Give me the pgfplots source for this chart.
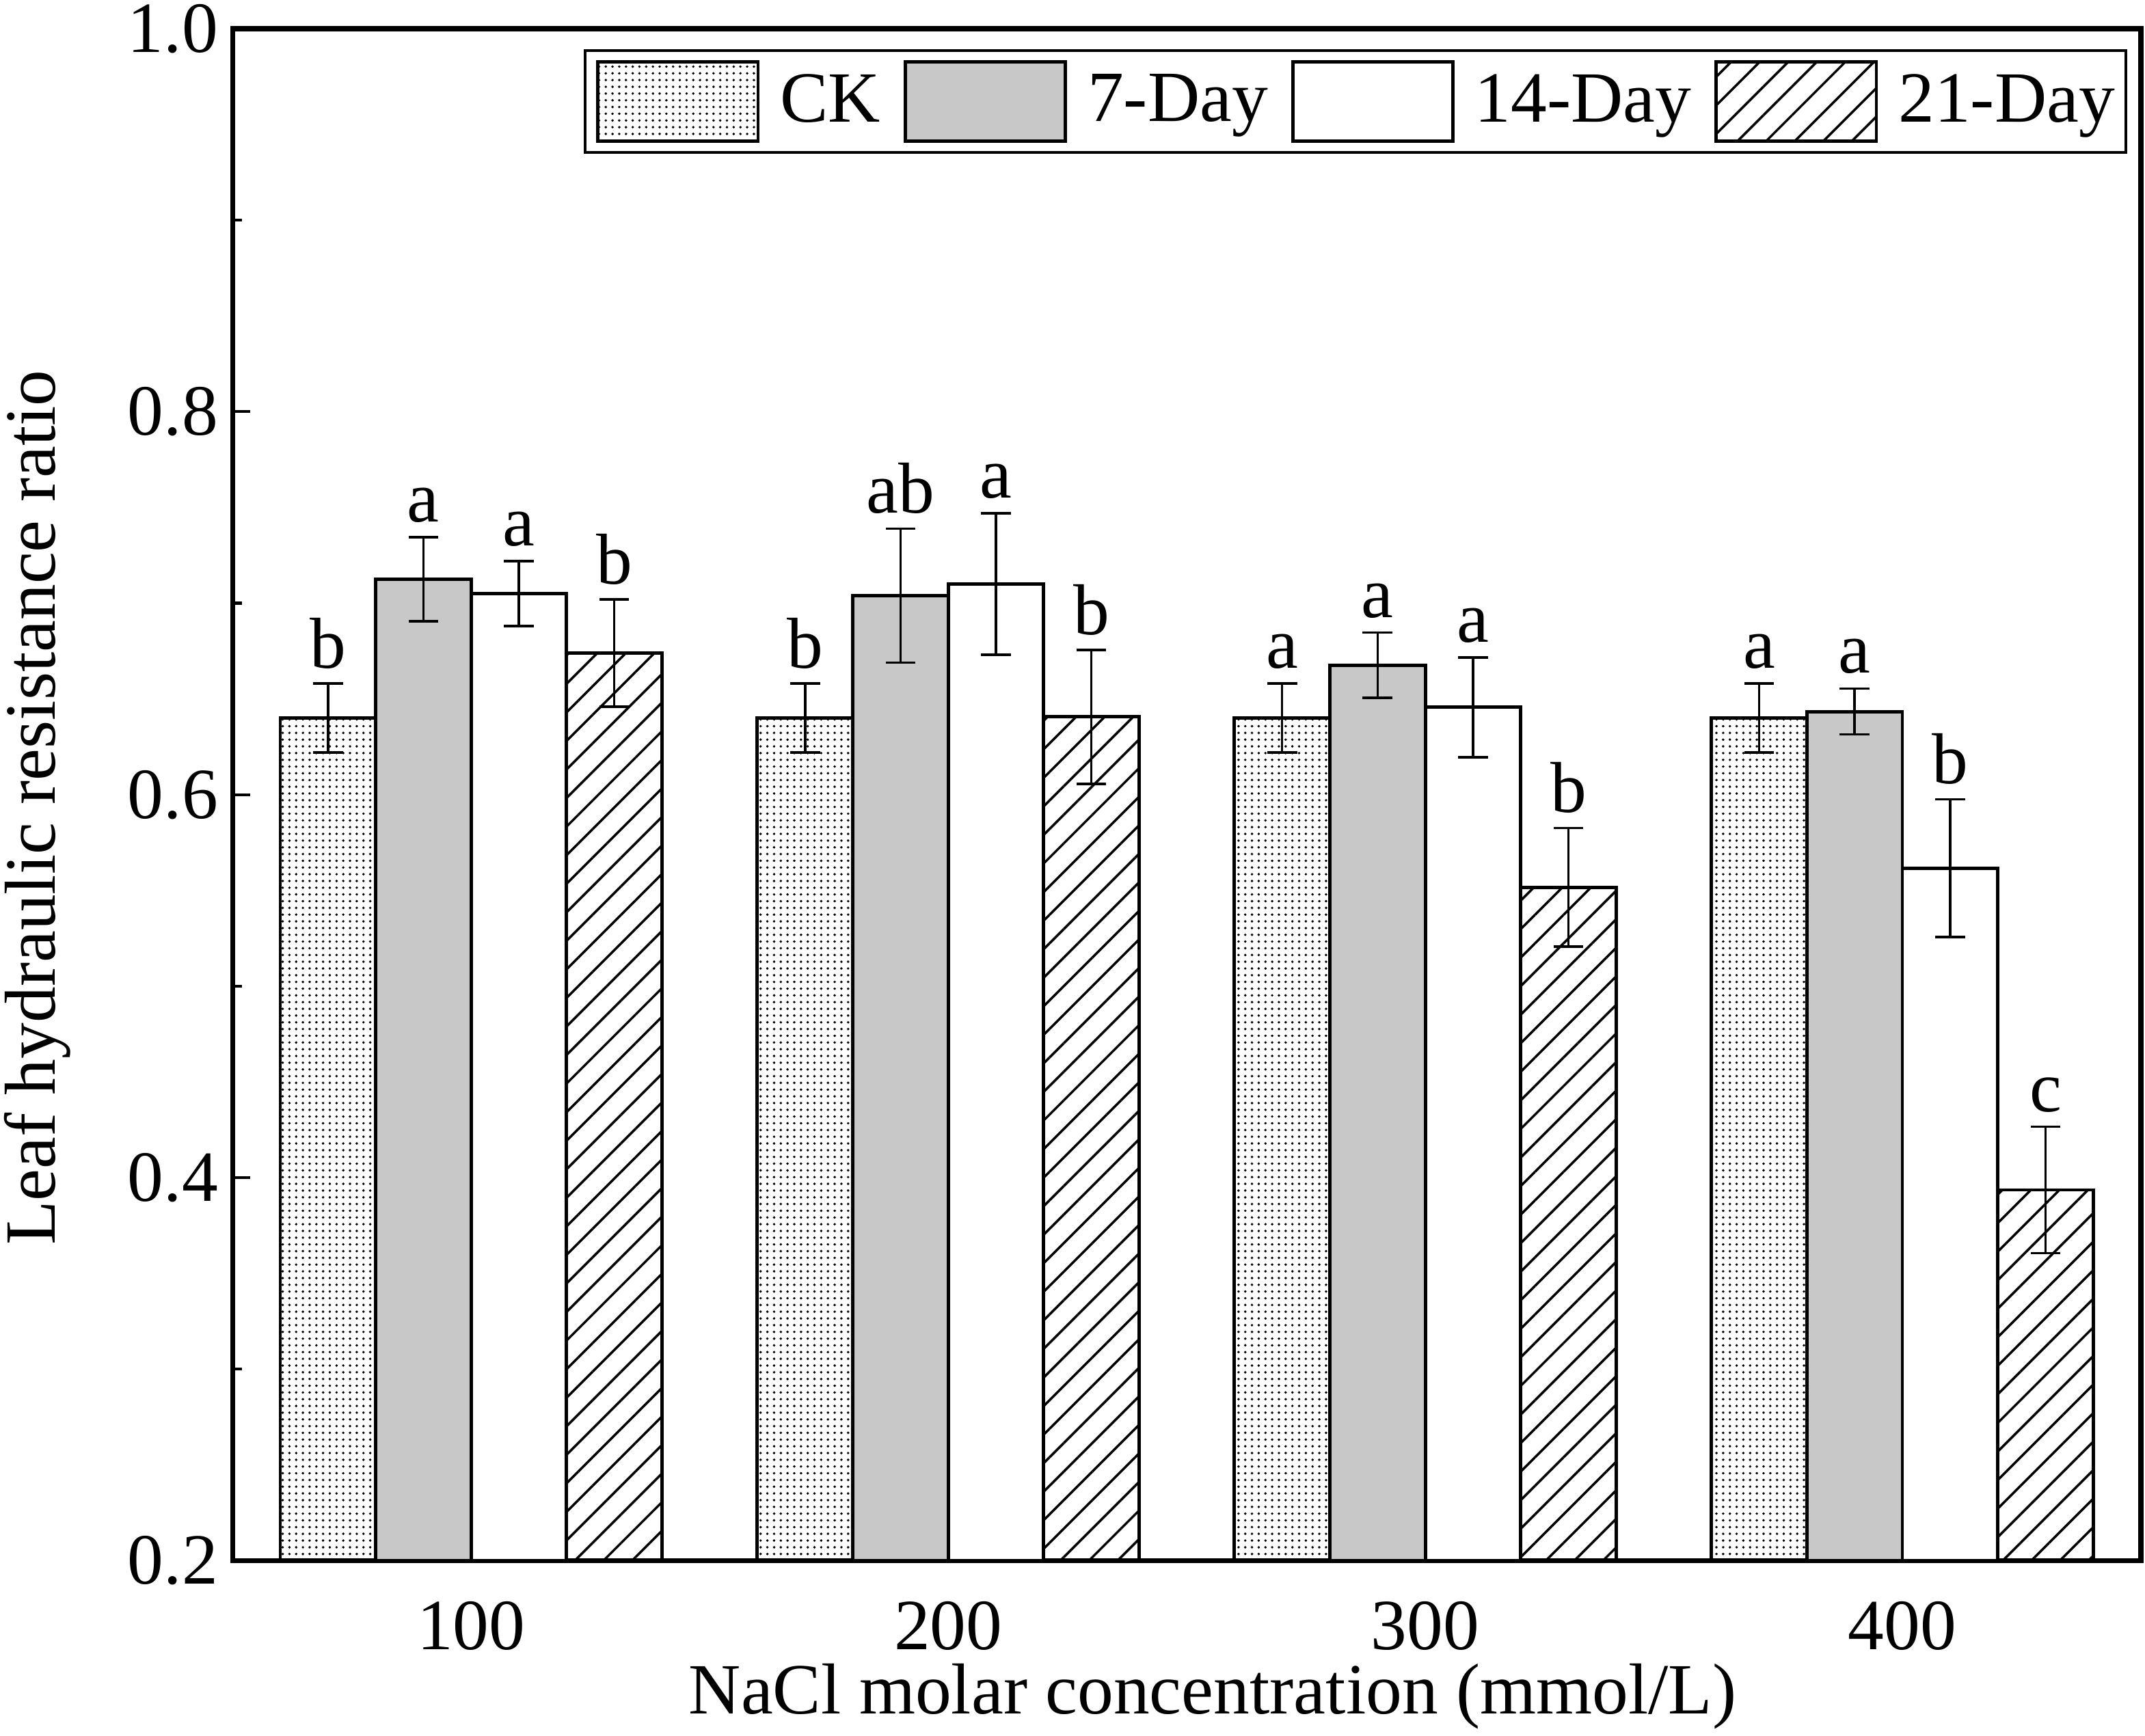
\documentclass[border=0pt]{standalone}
\usepackage{pgfplots}
\pgfplotsset{compat=1.18}
\usepackage{fontspec}
\setmainfont{Liberation Serif}
\usetikzlibrary{patterns.meta}
\definecolor{barfill}{RGB}{200,200,200}
\begin{document}
\begin{tikzpicture}
\begin{axis}[
  name=ax,
  scale only axis,
  width=13.95cm, height=11.2cm,
  font=\fontsize{15}{18}\selectfont,
  /pgf/number format/assume math mode=true,
  xmin=-0.5, xmax=3.5,
  ymin=0.2, ymax=1.0,
  xtick={0,1,2,3},
  xticklabels={100,200,300,400},
  ytick={0.2,0.4,0.6,0.8,1.0},
  minor y tick num=1,
  yticklabel style={/pgf/number format/.cd, fixed, fixed zerofill, precision=1, /tikz/.cd, inner sep=0pt, xshift=-0.1cm},
  xticklabel style={inner sep=0pt, yshift=-0.29cm},
  tick align=inside,
  ytick pos=left, xtick pos=bottom,
  major x tick style={draw=none},
  major tick length=0.13cm,
  minor tick length=0.07cm,
  tick style={line width=0.6pt, black},
  axis line style={line width=1pt},
  xlabel={NaCl molar concentration (mmol/L)},
  ylabel={Leaf hydraulic resistance ratio},
  xlabel style={at={(axis description cs:0.5,-0.1)}, anchor=base, xshift=0.19cm, inner sep=0pt},
  ylabel style={at={(axis description cs:-0.0932,0.4915)}, anchor=base, rotate=0, inner sep=0pt},
  legend columns=4,
  legend style={at={(1,1)}, anchor=north east, xshift=-0.1cm, yshift=-0.15cm,
    draw=black, line width=0.6pt, inner xsep=0.08cm, inner ysep=0.07cm,
    nodes={inner sep=0pt, anchor=west},
    /tikz/every odd column/.append style={column sep=0.15cm},
    /tikz/every even column/.append style={column sep=0.17cm},
    font=\fontsize{15}{18}\selectfont},
  error bars/error bar style={line width=0.5pt, black},
  error bars/error mark options={rotate=90, mark size=3.1pt, line width=0.5pt, black},
  mybar/.style={ybar, bar width=0.2, bar shift=0, line width=0.7pt, draw=black,
    legend image code/.code={\draw[##1, line width=0.7pt] (0cm,-0.29cm) rectangle (1.17cm,0.29cm);},
    error bars/y dir=both, error bars/y explicit},
  letters/.style={only marks, mark=none, forget plot, nodes near coords, point meta=explicit symbolic,
    every node near coord/.style={anchor=base, inner sep=0pt, yshift=3.2pt, font=\fontsize{15}{18}\selectfont, black}},
]
% CK
\addplot[mybar, pattern={Dots[distance=1.4pt, radius=0.28pt]}, pattern color=black]
  coordinates {(-0.3,0.640) +- (0,0.018) (0.7,0.640) +- (0,0.018) (1.7,0.640) +- (0,0.018) (2.7,0.640) +- (0,0.018)};
\addlegendentry{CK}
% 7-Day
\addplot[mybar, fill=barfill]
  coordinates {(-0.1,0.7125) +- (0,0.022) (0.9,0.704) +- (0,0.035) (1.9,0.6676) +- (0,0.017) (2.9,0.6434) +- (0,0.012)};
\addlegendentry{7-Day}
% 14-Day
\addplot[mybar, fill=white]
  coordinates {(0.1,0.705) +- (0,0.017) (1.1,0.710) +- (0,0.037) (2.1,0.6456) +- (0,0.026) (3.1,0.5616) +- (0,0.036)};
\addlegendentry{14-Day}
% 21-Day
\addplot[mybar, pattern={Lines[angle=45, distance=4.2pt, line width=0.5pt]}, pattern color=black]
  coordinates {(0.3,0.674) +- (0,0.028) (1.3,0.6406) +- (0,0.035) (2.3,0.5516) +- (0,0.031) (3.3,0.3936) +- (0,0.033)};
\addlegendentry{21-Day}
% significance letters
\addplot[letters] coordinates {(-0.3,0.658) [b] (0.7,0.658) [b] (1.7,0.658) [a] (2.7,0.658) [a]};
\addplot[letters] coordinates {(-0.1,0.7345) [a] (0.9,0.739) [ab] (1.9,0.6846) [a] (2.9,0.6554) [a]};
\addplot[letters] coordinates {(0.1,0.722) [a] (1.1,0.747) [a] (2.1,0.6716) [a] (3.1,0.5976) [b]};
\addplot[letters] coordinates {(0.3,0.702) [b] (1.3,0.6756) [b] (2.3,0.5826) [b] (3.3,0.4266) [c]};
\end{axis}
\pgfresetboundingbox
\path[use as bounding box] ([xshift=-1.70cm,yshift=-1.28cm]ax.south west) rectangle ([xshift=0.03cm,yshift=0.21cm]ax.north east);
\end{tikzpicture}
\end{document}
